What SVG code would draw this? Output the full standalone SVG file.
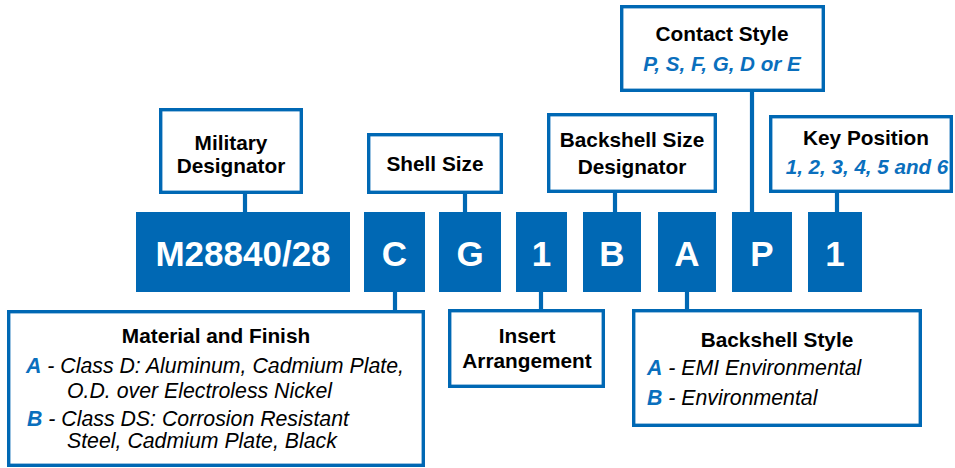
<svg xmlns="http://www.w3.org/2000/svg" width="955" height="468" viewBox="0 0 955 468">
<style>
.lbl{fill:#fff;stroke:#0068b4;stroke-width:3.4}
.code{fill:#0068b4}
.ct{font-family:"Liberation Sans",Arial,sans-serif;font-weight:bold;font-size:35px;fill:#fff;text-anchor:middle}
.t{font-family:"Liberation Sans",Arial,sans-serif;font-weight:bold;font-size:20.8px;fill:#000;text-anchor:middle}
.bi{font-family:"Liberation Sans",Arial,sans-serif;font-weight:bold;font-style:italic;font-size:20.6px;fill:#0a6fbd;text-anchor:middle}
.i{font-family:"Liberation Sans",Arial,sans-serif;font-style:italic;font-size:21.3px;fill:#000}
.k{font-weight:bold;fill:#0a6fbd}
.con{stroke:#0068b4;stroke-width:4.2;fill:none}
</style>
<g id="connectors">
<line class="con" x1="245" y1="193" x2="245" y2="213"/>
<line class="con" x1="465" y1="193" x2="465" y2="213"/>
<line class="con" x1="615" y1="192" x2="615" y2="213"/>
<line class="con" x1="752" y1="91" x2="752" y2="213"/>
<line class="con" x1="837" y1="192" x2="837" y2="213"/>
<line class="con" x1="395" y1="291" x2="395" y2="311"/>
<line class="con" x1="541" y1="291" x2="541" y2="310"/>
<line class="con" x1="687" y1="291" x2="687" y2="310"/>
</g>
<g id="code-m28840"><rect class="code" x="136" y="212" width="214" height="80"/><text class="ct" x="243" y="266">M28840/28</text></g>
<g id="code-c"><rect class="code" x="364" y="212" width="61" height="80"/><text class="ct" x="394.5" y="266">C</text></g>
<g id="code-g"><rect class="code" x="439" y="212" width="62" height="80"/><text class="ct" x="470" y="266">G</text></g>
<g id="code-1a"><rect class="code" x="516" y="212" width="51" height="80"/><text class="ct" x="541.5" y="266">1</text></g>
<g id="code-b"><rect class="code" x="583" y="212" width="58" height="80"/><text class="ct" x="612" y="266">B</text></g>
<g id="code-a"><rect class="code" x="658" y="212" width="58" height="80"/><text class="ct" x="687" y="266">A</text></g>
<g id="code-p"><rect class="code" x="732" y="212" width="60" height="80"/><text class="ct" x="762" y="266">P</text></g>
<g id="code-1b"><rect class="code" x="808" y="212" width="54" height="80"/><text class="ct" x="835" y="266">1</text></g>

<g id="military-designator"><rect class="lbl" x="160.7" y="109.7" width="140.6" height="82.6"/><text class="t" x="231" y="150">Military</text><text class="t" x="231" y="173">Designator</text></g>
<g id="shell-size"><rect class="lbl" x="368.7" y="134.7" width="132.6" height="57.6"/><text class="t" x="435" y="171">Shell Size</text></g>
<g id="backshell-size"><rect class="lbl" x="548.7" y="114.7" width="166.6" height="76.6"/><text class="t" x="632" y="147">Backshell Size</text><text class="t" x="632" y="174">Designator</text></g>
<g id="contact-style"><rect class="lbl" x="621.7" y="6.7" width="201.6" height="83.6"/><text class="t" x="722" y="41">Contact Style</text><text class="bi" x="722" y="71">P, S, F, G, D or E</text></g>
<g id="key-position"><rect class="lbl" x="770.7" y="116.7" width="180.6" height="74.6"/><text class="t" x="866" y="145">Key Position</text><text class="bi" x="867" y="174">1, 2, 3, 4, 5 and 6</text></g>
<g id="material-finish"><rect class="lbl" x="8.7" y="311.7" width="414.6" height="153.6"/><text class="t" x="216" y="343">Material and Finish</text>
<text class="i" x="26" y="373"><tspan class="k">A</tspan> - Class D: Aluminum, Cadmium Plate,</text>
<text class="i" x="67" y="398">O.D. over Electroless Nickel</text>
<text class="i" x="27" y="426"><tspan class="k">B</tspan> - Class DS: Corrosion Resistant</text>
<text class="i" x="67" y="448">Steel, Cadmium Plate, Black</text></g>
<g id="insert-arrangement"><rect class="lbl" x="449.7" y="310.7" width="153.6" height="75.6"/><text class="t" x="527" y="343">Insert</text><text class="t" x="527" y="368">Arrangement</text></g>
<g id="backshell-style"><rect class="lbl" x="633.7" y="310.7" width="286.6" height="114.6"/><text class="t" x="777" y="347">Backshell Style</text>
<text class="i" x="647" y="375"><tspan class="k">A</tspan> - EMI Environmental</text>
<text class="i" x="647" y="405"><tspan class="k">B</tspan> - Environmental</text></g>
</svg>
